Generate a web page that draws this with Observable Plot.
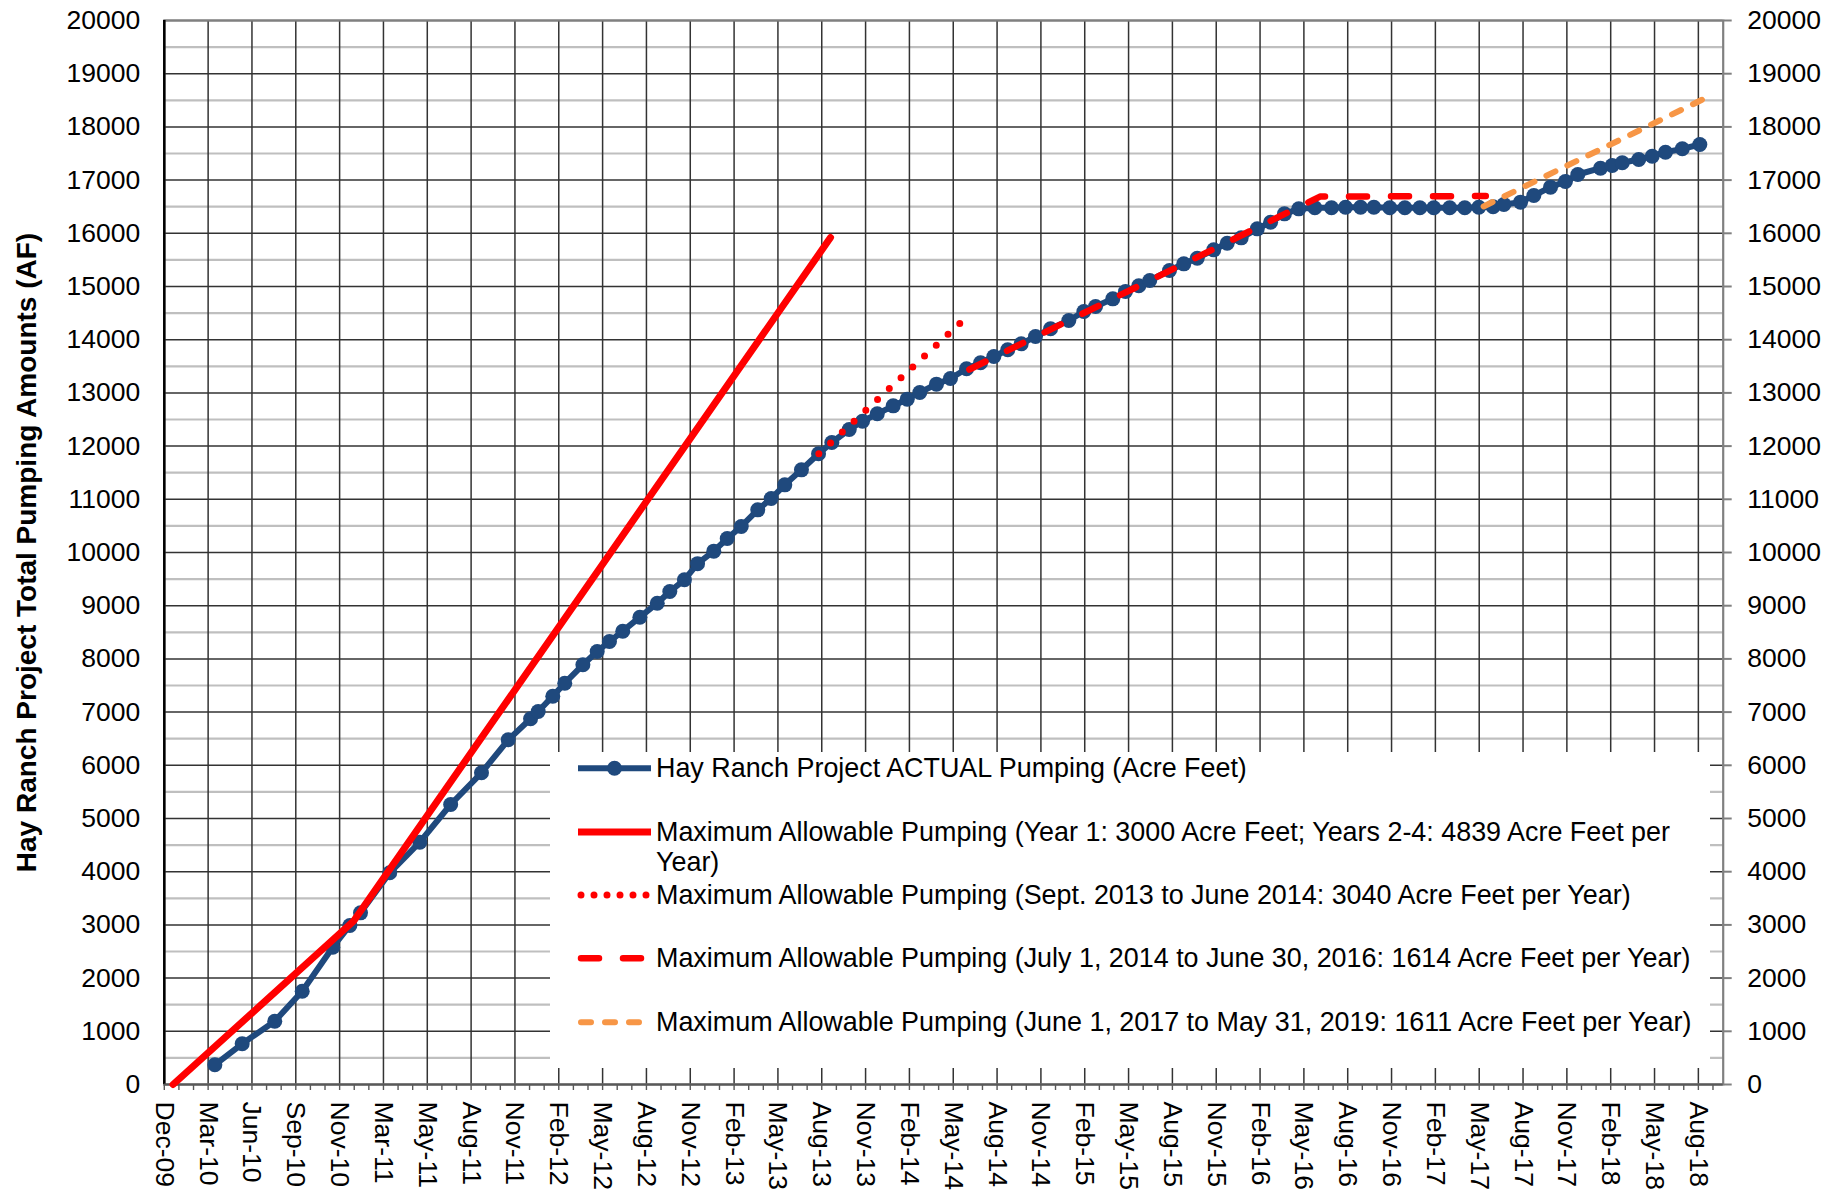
<!DOCTYPE html>
<html><head><meta charset="utf-8">
<script src="https://cdn.jsdelivr.net/npm/d3@7"></script>
<script src="https://cdn.jsdelivr.net/npm/@observablehq/plot@0.6"></script>
<style>
html,body{margin:0;padding:0;background:#fff;}
#wrap{position:relative;width:1843px;height:1195px;font-family:'Liberation Sans',Arial,sans-serif;}
#legend{position:absolute;left:550px;top:752px;width:1160px;height:316px;background:#fff;}
</style></head><body><div id="wrap"><div id="legend"></div></div>
<script>
// x positions are in category-axis units (one unit = one minor tick); labels sit on every 3rd tick
const xTickLabels = ["Dec-09","Mar-10","Jun-10","Sep-10","Nov-10","Mar-11","May-11","Aug-11","Nov-11","Feb-12","May-12","Aug-12","Nov-12","Feb-13","May-13","Aug-13","Nov-13","Feb-14","May-14","Aug-14","Nov-14","Feb-15","May-15","Aug-15","Nov-15","Feb-16","May-16","Aug-16","Nov-16","Feb-17","May-17","Aug-17","Nov-17","Feb-18","May-18","Aug-18"];
const yTicks = [0,1000,2000,3000,4000,5000,6000,7000,8000,9000,10000,11000,12000,13000,14000,15000,16000,17000,18000,19000,20000];
const yTitle = "Hay Ranch Project Total Pumping Amounts (AF)";

// Hay Ranch Project ACTUAL Pumping (Acre Feet)
const actualX = [3.46,5.33,7.56,9.44,11.53,12.7,13.43,15.43,17.49,19.6,21.71,23.54,25.07,25.59,26.59,27.41,28.65,29.63,30.47,31.38,32.55,33.74,34.6,35.6,36.5,37.61,38.53,39.49,40.62,41.54,42.47,43.61,44.78,45.69,46.88,47.79,48.8,49.89,50.85,51.71,52.85,53.81,54.91,55.87,56.78,57.73,58.65,59.63,60.66,61.91,62.94,63.74,64.92,65.79,66.7,67.45,68.8,69.78,70.7,71.83,72.75,73.71,74.81,75.72,76.67,77.65,78.75,79.89,80.85,81.88,82.79,83.88,84.91,85.94,86.89,87.98,89.01,89.97,90.95,91.69,92.83,93.74,94.88,95.9,96.75,98.3,99.1,99.79,100.92,101.84,102.75,103.9,105.1];
const actualY = [370,765,1190,1754,2581,2989,3227,3979,4555,5263,5859,6479,6874,7011,7299,7543,7889,8139,8327,8521,8784,9047,9267,9487,9790,10025,10263,10489,10802,11015,11272,11554,11855,12068,12312,12468,12607,12757,12882,13008,13164,13271,13453,13566,13684,13810,13922,14060,14205,14361,14530,14624,14768,14906,15013,15113,15301,15426,15532,15689,15814,15915,16084,16209,16366,16460,16479,16479,16491,16491,16491,16479,16479,16479,16479,16479,16479,16490,16500,16541,16585,16711,16867,16974,17105,17224,17274,17325,17387,17449,17524,17588,17669];

// Maximum Allowable Pumping (Year 1: 3000; Years 2-4: 4839 per year)
const maxY14X = [0.6, 12.95, 45.6];
const maxY14Y = [0, 3070, 15920];
// Sept. 2013 to June 2014: 3040 per year
const max1314X = [44.8, 54.5];
const max1314Y = [11855, 14320];
// July 1, 2014 to June 30, 2016: 1614 per year
const max1416X = [55.1, 79.1, 90.45];
const max1416Y = [13440, 16690, 16700];
// June 1, 2017 to May 31, 2019: 1611 per year
const max1719X = [90.3, 105.7];
const max1719Y = [16505, 18570];

const legendLabels = [
  ["Hay Ranch Project ACTUAL Pumping (Acre Feet)"],
  ["Maximum Allowable Pumping (Year 1: 3000 Acre Feet; Years 2-4: 4839 Acre Feet per", "Year)"],
  ["Maximum Allowable Pumping (Sept. 2013 to June 2014: 3040 Acre Feet per Year)"],
  ["Maximum Allowable Pumping (July 1, 2014 to June 30, 2016: 1614 Acre Feet per Year)"],
  ["Maximum Allowable Pumping (June 1, 2017 to May 31, 2019: 1611 Acre Feet per Year)"]
];

const BLUE = "#1F497D", RED = "#FF0000", ORANGE = "#F79646";
const rows = (xs, ys) => xs.map((x, i) => ({x, y: ys[i]}));
const actual = rows(actualX, actualY);
const catTicks = d3.range(0, 107);
const labelPos = xTickLabels.map((d, i) => i * 3);
const minorY = yTicks.slice(0, -1).map(v => v + 500);
const FONT = "'Liberation Sans', Arial, sans-serif";

const chart = Plot.plot({
  width: 1843, height: 1195,
  marginLeft: 163.8, marginRight: 120.3, marginTop: 20, marginBottom: 111,
  x: {domain: [0, 106.7], axis: null},
  y: {domain: [0, 20000], axis: null},
  style: {fontFamily: FONT, fontSize: "26.5px", color: "#000", background: "#fff", overflow: "visible"},
  marks: [
    Plot.ruleY(minorY, {stroke: "#BFBFBF", strokeWidth: 2.2}),
    Plot.ruleY(yTicks, {stroke: "#333", strokeWidth: 1.5}),
    Plot.ruleX(labelPos, {stroke: "#333", strokeWidth: 1.5}),
    Plot.frame({stroke: "#808080", strokeWidth: 2.2}),
    Plot.ruleX([0], {stroke: "#000", strokeWidth: 2.5}),
    Plot.ruleY([0], {stroke: "#595959", strokeWidth: 2.2}),
    Plot.axisX(catTicks, {tickSize: 6, tickFormat: () => "", stroke: "#595959", strokeWidth: 1.4, label: null}),
    Plot.text(xTickLabels, {x: (d, i) => i * 3, frameAnchor: "bottom", dy: 17, rotate: 90, textAnchor: "start", lineAnchor: "middle", fill: "#000", fontSize: 26.5}),
    Plot.axisY(yTicks, {anchor: "right", tickSize: 8, tickPadding: 16, tickFormat: d => String(d), stroke: "#808080", strokeWidth: 2, fill: "#000", fontSize: 26.5, label: null}),
    Plot.axisY(yTicks, {anchor: "left", tickSize: 0, tickPadding: 24, tickFormat: d => String(d), fill: "#000", fontSize: 26.5, label: null}),
    Plot.text([yTitle], {frameAnchor: "left", dx: -137, rotate: -90, textAnchor: "middle", lineAnchor: "middle", fontWeight: "bold", fill: "#000", fontSize: 28}),
    Plot.line(actual, {x: "x", y: "y", stroke: BLUE, strokeWidth: 6}),
    Plot.dot(actual, {x: "x", y: "y", r: 7.5, fill: BLUE}),
    Plot.line(rows(maxY14X, maxY14Y), {x: "x", y: "y", stroke: RED, strokeWidth: 7, strokeLinecap: "round"}),
    Plot.line(rows(max1314X, max1314Y), {x: "x", y: "y", stroke: RED, strokeWidth: 7, strokeLinecap: "round", strokeDasharray: "0 16"}),
    Plot.line(rows(max1416X, max1416Y), {x: "x", y: "y", stroke: RED, strokeWidth: 6.5, strokeLinecap: "round", strokeDasharray: "18 24"}),
    Plot.line(rows(max1719X, max1719Y), {x: "x", y: "y", stroke: ORANGE, strokeWidth: 6, strokeLinecap: "round", strokeDasharray: "10 13.3"})
  ]
});
const wrap = document.getElementById("wrap");
wrap.insertBefore(chart, wrap.firstChild);
chart.style.position = "absolute"; chart.style.left = "0"; chart.style.top = "0";

// legend overlay
const lg = d3.select("#legend").append("svg").attr("width", 1160).attr("height", 316)
  .style("font-family", FONT).style("font-size", "26.9px");
const symY = [16.3, 80, 143, 206.3, 270.3];
const baseY = [25.3, 88.7, 152, 215.3, 278.7];
const styles = [
  {stroke: BLUE, w: 6, dash: null, cap: "butt"},
  {stroke: RED, w: 7, dash: null, cap: "butt"},
  {stroke: RED, w: 7, dash: "0 13", cap: "round"},
  {stroke: RED, w: 6.5, dash: "18 24", cap: "round"},
  {stroke: ORANGE, w: 6, dash: "10 14", cap: "round"}
];
legendLabels.forEach((lines, k) => {
  const s = styles[k];
  const x1 = s.cap === "round" ? 31 : 28, x2 = s.cap === "round" ? 98 : 101;
  const ln = lg.append("line").attr("x1", x1).attr("x2", x2).attr("y1", symY[k]).attr("y2", symY[k])
    .attr("stroke", s.stroke).attr("stroke-width", s.w).attr("stroke-linecap", s.cap);
  if (s.dash) ln.attr("stroke-dasharray", s.dash);
  if (k === 0) lg.append("circle").attr("cx", 64.5).attr("cy", symY[k]).attr("r", 7.5).attr("fill", BLUE);
  const t = lg.append("text").attr("x", 106).attr("y", baseY[k]).attr("fill", "#000");
  lines.forEach((l, j) => t.append("tspan").attr("x", 106).attr("y", baseY[k] + j * 30).text(l));
});
</script></body></html>
